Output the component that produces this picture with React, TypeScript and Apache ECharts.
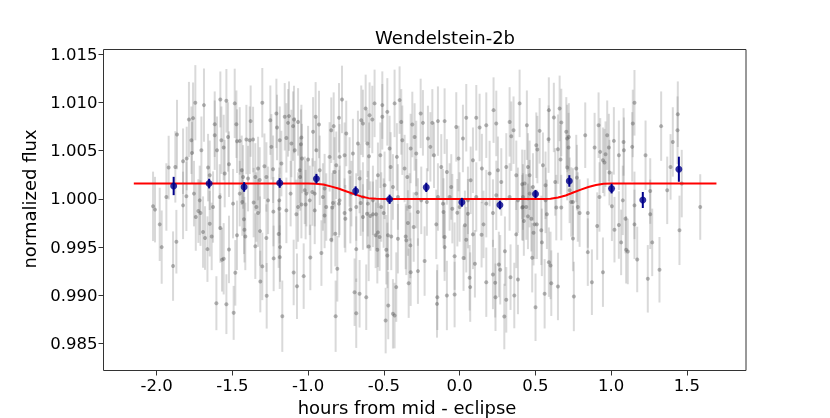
import React, { useEffect, useRef } from "react";
import * as echarts from "echarts";

const chartTitle = "Wendelstein-2b";
const xName = "hours from mid - eclipse";
const yName = "normalized flux";
const xTicks = [-2.0, -1.5, -1.0, -0.5, 0.0, 0.5, 1.0, 1.5];
const yTicks = [0.985, 0.99, 0.995, 1.0, 1.005, 1.01, 1.015];
const X_MIN = -2.35;
const X_MAX = 1.89;
const Y_MIN = 0.9822;
const Y_MAX = 1.0155;

// unbinned photometry: [hours, flux, error]
const grayPoints: [number, number, number][] = [
  [-2.023, 0.99923, 0.0036], [-2.01, 0.99889, 0.0034], [-1.979, 0.99736, 0.0038], [-1.966, 0.995, 0.0038],
  [-1.935, 1.0002, 0.0035], [-1.92, 1.00325, 0.0033], [-1.891, 0.99303, 0.0036], [-1.876, 1.00332, 0.0037],
  [-1.869, 0.99556, 0.0033], [-1.865, 1.00668, 0.0036], [-1.825, 1.00391, 0.0034], [-1.825, 0.99933, 0.0035],
  [-1.803, 1.00027, 0.0036], [-1.801, 1.00419, 0.0033], [-1.786, 1.00824, 0.0039], [-1.77, 1.00609, 0.0035],
  [-1.766, 1.00477, 0.0032], [-1.759, 1.00838, 0.0037], [-1.753, 1.00055, 0.0034], [-1.744, 1.00998, 0.0039],
  [-1.741, 0.99812, 0.0035], [-1.724, 0.99874, 0.0033], [-1.715, 0.99985, 0.0036], [-1.71, 0.99853, 0.0034],
  [-1.704, 1.00505, 0.0035], [-1.693, 0.99656, 0.0037], [-1.687, 1.00973, 0.0038], [-1.68, 0.99594, 0.0033],
  [-1.664, 0.99479, 0.0034], [-1.66, 1.00325, 0.0035], [-1.649, 1.00245, 0.0036], [-1.649, 0.99743, 0.0034],
  [-1.636, 0.99611, 0.0035], [-1.627, 0.99916, 0.0037], [-1.616, 1.00775, 0.0034], [-1.616, 1.00661, 0.0036],
  [-1.605, 0.98918, 0.0028], [-1.601, 1.00505, 0.0035], [-1.583, 1.0002, 0.0034], [-1.579, 1.01032, 0.0029],
  [-1.579, 0.99698, 0.0036], [-1.572, 1.00609, 0.0035], [-1.568, 0.99369, 0.0033], [-1.557, 1.00533, 0.0034],
  [-1.557, 0.99379, 0.0037], [-1.55, 1.00263, 0.0035], [-1.539, 1.01018, 0.0033], [-1.539, 0.98908, 0.0031],
  [-1.528, 1.00643, 0.0036], [-1.522, 1.0036, 0.0034], [-1.522, 0.99476, 0.0035], [-1.495, 0.99951, 0.0036],
  [-1.491, 0.98818, 0.0028], [-1.484, 1.00991, 0.0036], [-1.48, 0.99233, 0.0034], [-1.473, 1.00775, 0.0035],
  [-1.469, 1.00599, 0.0033], [-1.469, 0.99622, 0.0036], [-1.451, 1.00602, 0.0035], [-1.451, 1.00055, 0.0034],
  [-1.438, 1.00297, 0.0036], [-1.434, 0.99968, 0.0035], [-1.429, 1.00228, 0.0033], [-1.423, 0.99788, 0.0036],
  [-1.42, 0.99681, 0.0034], [-1.414, 0.99611, 0.0035], [-1.407, 1.00616, 0.0036], [-1.396, 1.00211, 0.0034],
  [-1.385, 1.00609, 0.0035], [-1.379, 1.00807, 0.0037], [-1.363, 1.00616, 0.0034], [-1.359, 0.99962, 0.0036],
  [-1.348, 1.00228, 0.0035], [-1.348, 0.9951, 0.0034], [-1.341, 0.99916, 0.0036], [-1.33, 1.00315, 0.0033],
  [-1.33, 0.99853, 0.0035], [-1.319, 1.00196, 0.0034], [-1.317, 0.99666, 0.0036], [-1.315, 0.99143, 0.0032],
  [-1.302, 1.00998, 0.0036], [-1.302, 0.993, 0.0035], [-1.288, 1.00339, 0.0034], [-1.275, 1.00228, 0.0036],
  [-1.275, 0.99594, 0.0035], [-1.273, 0.98995, 0.0034], [-1.264, 0.99985, 0.0035], [-1.249, 1.00817, 0.0036],
  [-1.242, 1.0054, 0.0034], [-1.231, 1.00308, 0.0035], [-1.229, 0.99868, 0.0036], [-1.227, 0.99383, 0.0034],
  [-1.209, 1.00887, 0.0036], [-1.205, 1.00741, 0.0034], [-1.194, 0.99635, 0.0035], [-1.19, 0.99985, 0.0034],
  [-1.189, 0.99899, 0.0036], [-1.187, 1.00609, 0.0035], [-1.187, 0.99396, 0.0033], [-1.185, 0.995, 0.0036],
  [-1.176, 1.00367, 0.0034], [-1.17, 0.98783, 0.0037], [-1.154, 1.00852, 0.0035], [-1.143, 1.00633, 0.0036],
  [-1.143, 0.99881, 0.0034], [-1.132, 1.00789, 0.0035], [-1.126, 1.00859, 0.0036], [-1.115, 1.00055, 0.0034],
  [-1.11, 1.00575, 0.0035], [-1.099, 1.00755, 0.0036], [-1.095, 0.99237, 0.0034], [-1.093, 1.00824, 0.0035],
  [-1.088, 1.00505, 0.0034], [-1.077, 0.9984, 0.0036], [-1.073, 0.99094, 0.0034], [-1.066, 1.00799, 0.0035],
  [-1.066, 0.99916, 0.0036], [-1.055, 1.00297, 0.0034], [-1.052, 1.00228, 0.0035], [-1.047, 1.00568, 0.0036],
  [-1.044, 1.00637, 0.0034], [-1.044, 0.99941, 0.0035], [-1.04, 1.00419, 0.0036], [-1.029, 0.99199, 0.0034],
  [-1.022, 1.00089, 0.0035], [-1.016, 0.99941, 0.0036], [-1.011, 1.00055, 0.0034], [-1.0, 1.00408, 0.0035],
  [-0.989, 0.99985, 0.0036], [-0.985, 0.99393, 0.0034], [-0.972, 1.00072, 0.0035], [-0.967, 1.00696, 0.0036],
  [-0.956, 1.00055, 0.0034], [-0.956, 0.99881, 0.0035], [-0.95, 1.00852, 0.0036], [-0.945, 1.00505, 0.0034],
  [-0.928, 1.00772, 0.0035], [-0.923, 1.00297, 0.0036], [-0.912, 0.99438, 0.0034], [-0.902, 1.0002, 0.0035],
  [-0.891, 1.00107, 0.0036], [-0.891, 0.99829, 0.0034], [-0.88, 0.99916, 0.0035], [-0.858, 1.00436, 0.0036],
  [-0.847, 1.00713, 0.0034], [-0.847, 0.99577, 0.0035], [-0.84, 0.9991, 0.0036], [-0.836, 0.99957, 0.0034],
  [-0.831, 1.00755, 0.0035], [-0.825, 1.0028, 0.0036], [-0.82, 0.99639, 0.0034], [-0.818, 0.98783, 0.0037],
  [-0.814, 1.00349, 0.0035], [-0.807, 0.99275, 0.0034], [-0.796, 1.00842, 0.0036], [-0.796, 0.99951, 0.0035],
  [-0.792, 1.00436, 0.0034], [-0.792, 0.99985, 0.0036], [-0.776, 1.01032, 0.0035], [-0.759, 1.00453, 0.0034],
  [-0.759, 0.99853, 0.0036], [-0.754, 0.99795, 0.0035], [-0.748, 1.00679, 0.0034], [-0.726, 1.0028, 0.0036],
  [-0.721, 0.99889, 0.0035], [-0.714, 1.00055, 0.0034], [-0.704, 1.00471, 0.0036], [-0.693, 0.99032, 0.0035],
  [-0.682, 0.99479, 0.0034], [-0.682, 0.98814, 0.0036], [-0.682, 0.99916, 0.0035], [-0.671, 1.00575, 0.0034],
  [-0.66, 1.00211, 0.0036], [-0.66, 0.99016, 0.0035], [-0.653, 0.99957, 0.0034], [-0.649, 1.00817, 0.0036],
  [-0.638, 1.00783, 0.0035], [-0.638, 0.99812, 0.0034], [-0.638, 1.0002, 0.0036], [-0.62, 1.00939, 0.0035],
  [-0.616, 0.9898, 0.0034], [-0.611, 0.99847, 0.0036], [-0.609, 1.00575, 0.0035], [-0.605, 0.99951, 0.0034],
  [-0.6, 0.99507, 0.0036], [-0.598, 1.00443, 0.0035], [-0.594, 1.00869, 0.0034], [-0.589, 0.99822, 0.0036],
  [-0.576, 1.00824, 0.0035], [-0.572, 0.9984, 0.0034], [-0.572, 0.99985, 0.0036], [-0.561, 1.00991, 0.0035],
  [-0.554, 0.99622, 0.0034], [-0.55, 0.9984, 0.0036], [-0.543, 0.99473, 0.0035], [-0.539, 1.00245, 0.0034],
  [-0.539, 0.99653, 0.0036], [-0.528, 0.99604, 0.0035], [-0.523, 1.00453, 0.0034], [-0.517, 0.99916, 0.0036],
  [-0.51, 1.00973, 0.0035], [-0.51, 1.00852, 0.0034], [-0.501, 0.99853, 0.0036], [-0.495, 1.00141, 0.0035],
  [-0.488, 0.98738, 0.0034], [-0.484, 0.99473, 0.0036], [-0.477, 1.00903, 0.0035], [-0.477, 0.99414, 0.0034],
  [-0.473, 0.99622, 0.0036], [-0.471, 0.98894, 0.0035], [-0.462, 1.00523, 0.0034], [-0.455, 1.00332, 0.0036],
  [-0.451, 0.99611, 0.0035], [-0.44, 1.00124, 0.0034], [-0.44, 0.98808, 0.0036], [-0.429, 1.00991, 0.0035],
  [-0.429, 0.9879, 0.0034], [-0.418, 0.99085, 0.0036], [-0.414, 1.00436, 0.0035], [-0.407, 1.0002, 0.0034],
  [-0.407, 0.99587, 0.0036], [-0.396, 1.01025, 0.0035], [-0.385, 1.00799, 0.0034], [-0.378, 1.00609, 0.0036],
  [-0.363, 1.00315, 0.0035], [-0.356, 0.99611, 0.0034], [-0.352, 0.9957, 0.0036], [-0.345, 1.00228, 0.0035],
  [-0.341, 0.9975, 0.0034], [-0.336, 0.99126, 0.0036], [-0.33, 0.99916, 0.0035], [-0.325, 0.99518, 0.0034],
  [-0.323, 1.00523, 0.0036], [-0.323, 0.9924, 0.0035], [-0.312, 1.00772, 0.0034], [-0.303, 0.99708, 0.0036],
  [-0.297, 1.00643, 0.0035], [-0.286, 1.00471, 0.0034], [-0.286, 1.00055, 0.0036], [-0.275, 0.99864, 0.0035],
  [-0.275, 0.99251, 0.0034], [-0.257, 1.00887, 0.0036], [-0.253, 0.99985, 0.0035], [-0.242, 1.00789, 0.0034],
  [-0.231, 0.99355, 0.0036], [-0.216, 0.99968, 0.0035], [-0.209, 1.00627, 0.0034], [-0.193, 1.0054, 0.0036],
  [-0.18, 1.00789, 0.0035], [-0.169, 1.00453, 0.0034], [-0.154, 0.99736, 0.0036], [-0.149, 0.98911, 0.0035],
  [-0.147, 0.9898, 0.0034], [-0.143, 1.00807, 0.0036], [-0.143, 1.0002, 0.0035], [-0.121, 1.00332, 0.0034],
  [-0.11, 0.99951, 0.0036], [-0.106, 0.99864, 0.0035], [-0.099, 1.00807, 0.0034], [-0.099, 0.99604, 0.0036],
  [-0.099, 0.995, 0.0035], [-0.084, 1.0028, 0.0034], [-0.084, 0.98998, 0.0036], [-0.066, 1.0002, 0.0035],
  [-0.055, 1.00124, 0.0034], [-0.048, 0.99899, 0.0036], [-0.033, 0.99406, 0.0035], [-0.033, 0.99008, 0.0034],
  [-0.022, 1.00747, 0.0036], [-0.015, 0.99857, 0.0035], [-0.007, 1.00419, 0.0034], [0.0, 0.99916, 0.0036],
  [0.022, 1.00627, 0.0035], [0.026, 0.99386, 0.0034], [0.035, 0.99726, 0.0036], [0.044, 1.00842, 0.0035],
  [0.044, 0.99577, 0.0034], [0.055, 0.99847, 0.0036], [0.055, 0.99985, 0.0035], [0.066, 0.99182, 0.0034],
  [0.07, 0.99085, 0.0036], [0.073, 1.00193, 0.0035], [0.088, 1.00401, 0.0034], [0.088, 0.99632, 0.0036],
  [0.101, 0.99327, 0.0035], [0.11, 1.00842, 0.0034], [0.11, 1.0002, 0.0036], [0.132, 1.00741, 0.0035],
  [0.145, 0.99629, 0.0034], [0.147, 1.00315, 0.0036], [0.158, 0.99736, 0.0035], [0.176, 1.00765, 0.0034],
  [0.176, 0.99136, 0.0036], [0.176, 0.99951, 0.0035], [0.198, 1.00263, 0.0034], [0.22, 0.99216, 0.0036],
  [0.22, 0.99853, 0.0035], [0.224, 1.00921, 0.0034], [0.235, 0.9913, 0.0036], [0.237, 0.9898, 0.0035],
  [0.242, 1.00783, 0.0034], [0.242, 1.00037, 0.0036], [0.253, 1.00297, 0.0035], [0.259, 0.9932, 0.0034],
  [0.268, 0.99265, 0.0036], [0.275, 1.00176, 0.0035], [0.295, 0.9878, 0.0034], [0.299, 0.99458, 0.0036],
  [0.308, 1.00332, 0.0035], [0.308, 0.98953, 0.0034], [0.33, 1.00799, 0.0036], [0.33, 1.0002, 0.0035],
  [0.336, 0.99188, 0.0034], [0.341, 1.00651, 0.0036], [0.356, 1.00713, 0.0035], [0.361, 0.98998, 0.0034],
  [0.374, 1.00245, 0.0036], [0.374, 0.99632, 0.0035], [0.385, 0.99985, 0.0034], [0.385, 0.99164, 0.0036],
  [0.396, 1.00991, 0.0035], [0.413, 0.9991, 0.0034], [0.413, 1.00152, 0.0036], [0.418, 0.99916, 0.0035],
  [0.418, 1.0002, 0.0034], [0.424, 0.9977, 0.0036], [0.429, 1.00159, 0.0035], [0.44, 0.99916, 0.0034],
  [0.444, 1.00765, 0.0036], [0.451, 1.00332, 0.0035], [0.451, 0.99819, 0.0034], [0.462, 1.00245, 0.0036],
  [0.462, 1.00055, 0.0035], [0.473, 0.99795, 0.0034], [0.479, 0.9939, 0.0036], [0.484, 1.00124, 0.0035],
  [0.488, 0.9965, 0.0034], [0.495, 0.99736, 0.0036], [0.501, 0.98876, 0.0035], [0.506, 1.00557, 0.0034],
  [0.51, 0.99736, 0.0036], [0.513, 1.00512, 0.0035], [0.528, 1.00706, 0.0034], [0.539, 0.99674, 0.0036],
  [0.543, 0.99549, 0.0035], [0.55, 1.00349, 0.0034], [0.561, 0.99016, 0.0036], [0.567, 1.00141, 0.0035],
  [0.567, 0.99985, 0.0034], [0.576, 0.9984, 0.0036], [0.587, 1.0062, 0.0035], [0.589, 1.00921, 0.0034],
  [0.589, 0.99344, 0.0036], [0.6, 0.9931, 0.0035], [0.605, 0.99126, 0.0034], [0.622, 1.00845, 0.0036],
  [0.631, 1.00176, 0.0035], [0.638, 0.9991, 0.0034], [0.649, 1.00516, 0.0036], [0.649, 0.99092, 0.0035],
  [0.66, 1.00939, 0.0034], [0.666, 1.00408, 0.0036], [0.671, 1.00793, 0.0035], [0.671, 0.9991, 0.0034],
  [0.704, 1.00696, 0.0036], [0.71, 1.00627, 0.0035], [0.71, 1.00325, 0.0034], [0.719, 1.00533, 0.0036],
  [0.721, 1.00643, 0.0035], [0.726, 1.00089, 0.0034], [0.737, 0.99968, 0.0036], [0.748, 0.99968, 0.0035],
  [0.748, 0.9959, 0.0034], [0.754, 0.98988, 0.0036], [0.77, 1.00315, 0.0035], [0.774, 1.00221, 0.0034],
  [0.78, 0.99916, 0.0036], [0.792, 0.99853, 0.0035], [0.829, 1.00661, 0.0034], [0.846, 0.99853, 0.0036],
  [0.846, 0.99448, 0.0035], [0.873, 0.99136, 0.0034], [0.891, 1.00533, 0.0036], [0.908, 0.99718, 0.0035],
  [0.917, 1.00765, 0.0034], [0.923, 1.0002, 0.0036], [0.928, 1.00488, 0.0035], [0.946, 1.00401, 0.0034],
  [0.946, 0.9924, 0.0036], [0.956, 1.00377, 0.0035], [0.963, 1.00464, 0.0034], [0.974, 1.00661, 0.0036],
  [0.985, 1.00533, 0.0035], [0.989, 1.00273, 0.0034], [1.005, 0.99923, 0.0036], [1.018, 1.00602, 0.0035],
  [1.022, 0.99681, 0.0034], [1.051, 1.00453, 0.0036], [1.051, 0.99729, 0.0035], [1.066, 0.99549, 0.0034],
  [1.077, 0.99985, 0.0036], [1.082, 1.00591, 0.0035], [1.084, 1.00505, 0.0034], [1.095, 0.99795, 0.0036],
  [1.099, 0.99473, 0.0035], [1.11, 0.99455, 0.0034], [1.139, 1.0054, 0.0036], [1.143, 1.00783, 0.0035],
  [1.154, 1.00997, 0.0034], [1.154, 0.99736, 0.0036], [1.154, 0.99933, 0.0035], [1.172, 0.99372, 0.0034],
  [1.227, 1.00453, 0.0036], [1.242, 0.99171, 0.0035], [1.258, 1.00082, 0.0034], [1.258, 0.9984, 0.0036],
  [1.271, 0.99549, 0.0035], [1.319, 0.99265, 0.0034], [1.33, 1.00755, 0.0036], [1.37, 1.00089, 0.0035],
  [1.392, 1.00332, 0.0034], [1.407, 1.00591, 0.0036], [1.438, 1.00713, 0.0035], [1.44, 1.00879, 0.0034],
  [1.451, 0.99674, 0.0036], [1.466, 1.00159, 0.0035], [1.588, 0.99916, 0.0034]
];

// binned points
const binX = [-1.887, -1.653, -1.422, -1.187, -0.945, -0.686, -0.462, -0.22, 0.015, 0.266, 0.501, 0.724, 1.003, 1.209, 1.447];
const binY = [1.00134, 1.00159, 1.00124, 1.00165, 1.0021, 1.00082, 0.99996, 1.0012, 0.99965, 0.99937, 1.00051, 1.00186, 1.00107, 0.99989, 1.00308];
const binErr = [0.00095, 0.0005, 0.0005, 0.0005, 0.0005, 0.00048, 0.00048, 0.00048, 0.00046, 0.00045, 0.00042, 0.0006, 0.0005, 0.00083, 0.0013];

// eclipse model
const modelX = [-2.15, -1.0, -0.95, -0.9, -0.85, -0.8, -0.75, -0.7, -0.65, -0.6, -0.55, -0.5, 0.55, 0.6, 0.65, 0.7, 0.75, 0.8, 0.85, 0.9, 0.95, 1.0, 1.695];
const modelY = [1.0016, 1.0016, 1.00158, 1.0015, 1.0013, 1.00108, 1.0008, 1.00052, 1.00026, 1.00008, 1.00001, 1.0, 1.0, 1.00002, 1.00014, 1.00036, 1.00066, 1.00096, 1.00124, 1.00145, 1.00157, 1.0016, 1.0016];

const FONT = "DejaVu Sans";

function errorBarSeries(data: number[][], color: string, width: number, z: number) {
  return {
    type: "custom",
    z,
    silent: true,
    data,
    encode: { x: 0, y: [1, 2] },
    renderItem: (_params: any, api: any) => {
      const x = api.value(0);
      const p1 = api.coord([x, api.value(1)]);
      const p2 = api.coord([x, api.value(2)]);
      return {
        type: "line",
        shape: { x1: p1[0], y1: p1[1], x2: p2[0], y2: p2[1] },
        style: { stroke: color, lineWidth: width },
      };
    },
  };
}

export default function App() {
  const ref = useRef<HTMLDivElement>(null);
  useEffect(() => {
    if (!ref.current) return;
    const chart = echarts.init(ref.current, undefined, { renderer: "svg" });
    const grayBars = grayPoints.map((p) => [p[0], p[1] - p[2], p[1] + p[2]]);
    const grayXY = grayPoints.map((p) => [p[0], p[1]]);
    const binBars = binX.map((x, i) => [x, binY[i] - binErr[i], binY[i] + binErr[i]]);
    const binXY = binX.map((x, i) => [x, binY[i]]);
    const modelXY = modelX.map((x, i) => [x, modelY[i]]);
    chart.setOption({
      animation: false,
      grid: {
        left: 103.5, right: 84, top: 49.5, bottom: 47.5,
        show: true, borderColor: "#333", borderWidth: 1, backgroundColor: "rgba(0,0,0,0)",
      },
      xAxis: {
        type: "value", min: X_MIN, max: X_MAX, position: "bottom",
        axisLine: { show: false, onZero: false }, splitLine: { show: false },
        axisTick: { show: true, customValues: xTicks, length: 5, lineStyle: { color: "#333", width: 1 } },
        axisLabel: {
          customValues: xTicks, formatter: (v: number) => v.toFixed(1),
          fontSize: 16.5, fontFamily: FONT, color: "#000", margin: 6,
        },
      },
      yAxis: {
        type: "value", min: Y_MIN, max: Y_MAX, position: "left",
        axisLine: { show: false, onZero: false }, splitLine: { show: false },
        axisTick: { show: true, customValues: yTicks, length: 5, lineStyle: { color: "#333", width: 1 } },
        axisLabel: {
          customValues: yTicks, formatter: (v: number) => v.toFixed(3),
          fontSize: 16.5, fontFamily: FONT, color: "#000", margin: 6,
        },
      },
      graphic: [
        { type: "text", x: 445, y: 37, style: { text: chartTitle, fontSize: 18, fontFamily: FONT, fill: "#000", textAlign: "center", textVerticalAlign: "middle" } },
        { type: "text", x: 407, y: 407, style: { text: xName, fontSize: 18, fontFamily: FONT, fill: "#000", textAlign: "center", textVerticalAlign: "middle" } },
        { type: "text", x: 29, y: 199, rotation: Math.PI / 2, style: { text: yName, fontSize: 18, fontFamily: FONT, fill: "#000", textAlign: "center", textVerticalAlign: "middle" } },
      ],
      series: [
        errorBarSeries(grayBars, "rgba(128,128,128,0.3)", 2, 1),
        {
          type: "scatter", data: grayXY, z: 2, symbol: "circle", symbolSize: 4, silent: true,
          itemStyle: { color: "rgba(90,90,90,0.55)" },
        },
        {
          type: "line", data: modelXY, z: 3, showSymbol: false, silent: true,
          lineStyle: { color: "#ff0000", width: 2 },
        },
        errorBarSeries(binBars, "#00008b", 2, 4),
        {
          type: "scatter", data: binXY, z: 5, symbol: "circle", symbolSize: 7, silent: true,
          itemStyle: { color: "#00008b" },
        },
      ],
    });
    return () => chart.dispose();
  }, []);
  return <div ref={ref} style={{ position: "fixed", left: 0, top: 0, width: 830, height: 418 }} />;
}
